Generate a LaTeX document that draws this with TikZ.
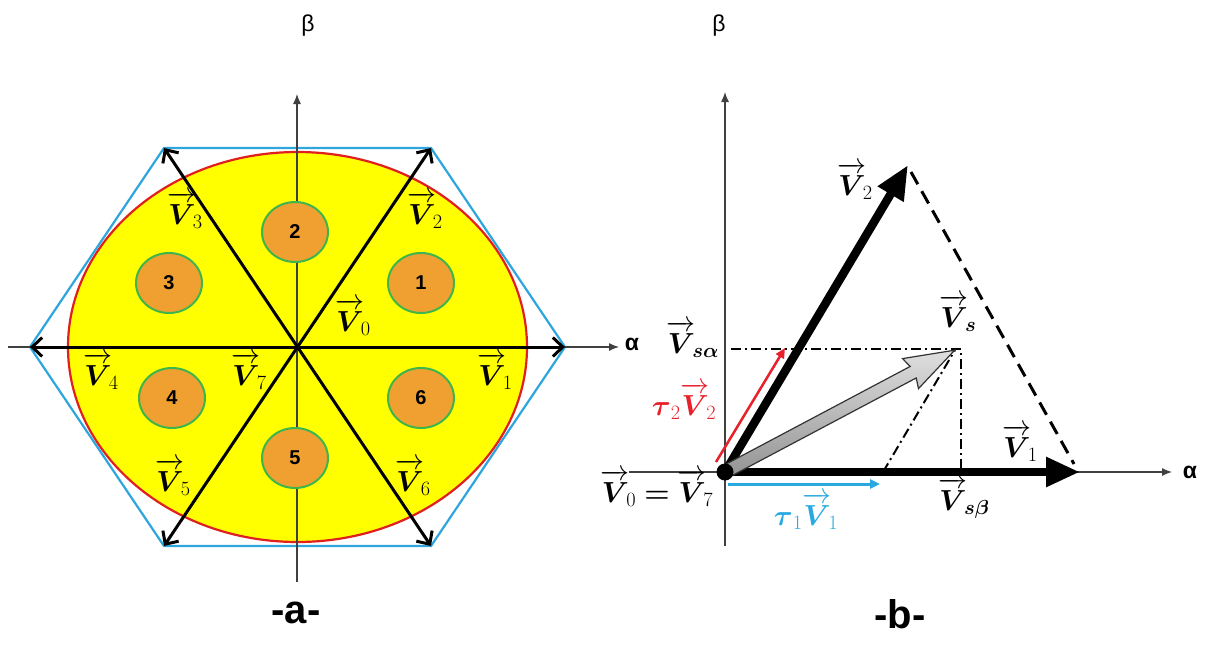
\RequirePackage{fix-cm}
\documentclass[tikz,border=0pt]{standalone}
\usepackage{amsmath,amssymb}
\usepackage{fontspec}
\newfontfamily\arialf{Liberation Sans}
\usetikzlibrary{arrows.meta,calc,shapes.geometric}
\definecolor{hexblue}{HTML}{2EA6DD}
\definecolor{ellred}{HTML}{E0201E}
\definecolor{fillyel}{HTML}{FFFF00}
\definecolor{secorange}{HTML}{F0A030}
\definecolor{secgreen}{HTML}{3DB54A}
\definecolor{labred}{HTML}{E8202A}
\definecolor{labblue}{HTML}{29A9E0}
\newcommand{\VArr}{\overrightarrow{\boldsymbol{V}\mathstrut}}
\newcommand{\VVec}[1]{\VArr_{\!#1}}
\begin{document}
\begin{tikzpicture}[x=1pt,y=-1pt,
  lab/.style={inner sep=0pt, font=\fontsize{29}{32}\selectfont},
  greek/.style={inner sep=0pt, font=\arialf\fontsize{23}{24}\selectfont},
  caption/.style={inner sep=0pt, font=\arialf\bfseries\fontsize{40}{42}\selectfont},
  axisarr/.style={line width=1.2pt, draw=black!75, -{Latex[length=10pt,width=8pt]}},
  vecarr/.style={line width=3pt, -{Straight Barb[length=10pt,width=19pt]}},
  bigarr/.style={line width=8.5pt, -{Triangle[length=34pt,width=28pt]}},
  sector/.style={ellipse, draw=secgreen, line width=2pt, fill=secorange,
    minimum width=66pt, minimum height=60pt, inner sep=0pt,
    font=\arialf\bfseries\fontsize{20}{20}\selectfont},
  dashdot/.style={line width=2pt, dash pattern=on 10pt off 4pt on 2pt off 4pt},
  longdash/.style={line width=3pt, dash pattern=on 14pt off 8pt}
]
\useasboundingbox (0,0) rectangle (1214,645);
% ---------------- left diagram ----------------
\coordinate (c) at (297.5,347);
\coordinate (h1) at (565,347);
\coordinate (h2) at (431,148);
\coordinate (h3) at (164,148);
\coordinate (h4) at (30,347);
\coordinate (h5) at (164,546);
\coordinate (h6) at (431,546);
\fill[fillyel] (c) ellipse [x radius=229.5, y radius=195];
\draw[ellred, line width=2.2pt] (c) ellipse [x radius=229.5, y radius=195];
\draw[hexblue, line width=2.2pt] (h1) -- (h2) -- (h3) -- (h4) -- (h5) -- (h6) -- cycle;
\coordinate (ybot) at (297,582);
\coordinate (ytop) at (297,94);
\coordinate (xl) at (8,347);
\coordinate (xr) at (619,347);
\draw[axisarr] (ybot) -- (ytop);
\draw[axisarr] (xl) -- (xr);
\node[sector] (s2) at (295,232) {2};
\node[sector] (s3) at (169,283) {3};
\node[sector] (s1) at (421,283) {1};
\node[sector] (s4) at (172,398) {4};
\node[sector] (s6) at (421,398) {6};
\node[sector] (s5) at (295,458) {5};
\foreach \h in {h1,h2,h3,h4,h5,h6} \draw[vecarr] (c) -- (\h);
\node[lab] (lv3) at (185,212) {$\VVec{3}$};
\node[lab] (lv2) at (425,212) {$\VVec{2}$};
\node[lab] (lv0) at (353,319) {$\VVec{0}$};
\node[lab] (lv4) at (101,373) {$\VVec{4}$};
\node[lab] (lv7) at (249,373) {$\VVec{7}$};
\node[lab] (lv1) at (495,373) {$\VVec{1}$};
\node[lab] (lv5) at (173,479) {$\VVec{5}$};
\node[lab] (lv6) at (413,479) {$\VVec{6}$};
\node[greek] (beta1) at (308,26) {β};
\node[greek, font=\arialf\bfseries\fontsize{23}{24}\selectfont] (alpha1) at (632,344) {α};
\node[caption] (capa) at (296,613) {-a-};
% ---------------- right diagram ----------------
\coordinate (O) at (725,472);
\coordinate (ybot2) at (725,546);
\coordinate (ytop2) at (725,92);
\coordinate (xl2) at (629,472);
\coordinate (xr2) at (1172,472);
\coordinate (V1e) at (1080,472);
\coordinate (V2e) at (908,165);
\coordinate (P) at (961,349);
\coordinate (Pa) at (731,349);
\coordinate (Pb) at (961,472);
\coordinate (T1) at (883,472);
\coordinate (Ps) at (955,350);
\coordinate (dashS) at (911,172);
\coordinate (dashE) at (1074,464);
\coordinate (b1) at (728,484);
\coordinate (b2) at (880,484);
\coordinate (r1) at (716,462);
\coordinate (r2) at (785,348);
\draw[axisarr] (ybot2) -- (ytop2);
\draw[axisarr] (xl2) -- (xr2);
\draw[dashdot] (Pa) -- (P) -- (Pb);
\draw[dashdot] (T1) -- (Ps);
\draw[longdash] (dashS) -- (dashE);
\draw[labblue, line width=3pt, -{Triangle[length=10pt,width=9pt]}] (b1) -- (b2);
\draw[labred, line width=2.5pt, -{Triangle[length=10pt,width=9pt]}] (r1) -- (r2);
\draw[bigarr] (O) -- (V1e);
\draw[bigarr] (O) -- (V2e);
\begin{scope}[shift={(O)}, rotate=27.94]
  \shade[top color=gray!25, bottom color=gray!85, draw=black!80, line width=1.2pt]
    (0,-6.5) -- (213,-6.5) -- (210,-17) -- (260,0) -- (210,17) -- (213,6.5) -- (0,6.5) -- cycle;
\end{scope}
\fill (O) circle (8.5);
\node[lab] (rv2) at (855,183) {$\VVec{2}$};
\node[lab] (rvs) at (958,315) {$\VArr_{\!\boldsymbol{s}}$};
\node[lab] (rvsa) at (693,341) {$\VArr_{\!\boldsymbol{s\alpha}}$};
\node[lab, text=labred] (rt2) at (684,403) {$\boldsymbol{\tau}_2\VVec{2}$};
\node[lab] (rv1) at (1020,445) {$\VVec{1}$};
\node[lab] (rv07) at (657,490) {$\VVec{0}\boldsymbol{=}\VVec{7}$};
\node[lab, text=labblue] (rt1) at (806,513) {$\boldsymbol{\tau}_1\VVec{1}$};
\node[lab] (rvsb) at (964,498) {$\VArr_{\!\boldsymbol{s\beta}}$};
\node[greek] (beta2) at (719,26) {β};
\node[greek, font=\arialf\bfseries\fontsize{23}{24}\selectfont] (alpha2) at (1190,472) {α};
\node[caption] (capb) at (900,614) {-b-};
\end{tikzpicture}
\end{document}
